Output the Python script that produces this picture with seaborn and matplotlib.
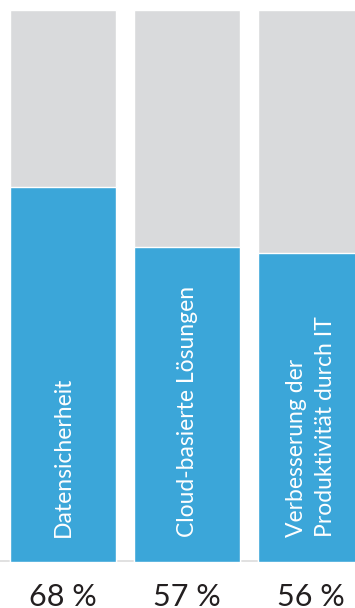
import matplotlib
matplotlib.use("Agg")
import matplotlib.pyplot as plt
import seaborn as sns
import pandas as pd

categories = ["Datensicherheit", "Cloud-basierte Lösungen", "Verbesserung der\nProduktivität durch IT"]
values = [68, 57, 56]
pct_labels = ["68 %", "57 %", "56 %"]
full = [100, 100, 100]

BLUE = "#3BA6D9"
GRAY = "#D9DADC"

sns.set_theme(style="white")
plt.rcParams["font.family"] = ["Lato", "DejaVu Sans"]

W, H = 355, 608
fig = plt.figure(figsize=(W / 100, H / 100), dpi=100)
ax = fig.add_axes([0, (H - 562) / H, 1, 552 / H])

df = pd.DataFrame({"cat": categories, "val": values, "full": full})
bw = 106 / 124
sns.barplot(data=df, x="cat", y="full", color=GRAY, saturation=1, width=bw, ax=ax)
sns.barplot(data=df, x="cat", y="val", color=BLUE, saturation=1, width=bw, ax=ax)

xmin = -63 / 124
ax.set_xlim(xmin, xmin + W / 124)
ax.set_ylim(0, 100)
ax.axis("off")
ax.axhline(0.2, color="#DCDCDC", lw=1.2, zorder=0, clip_on=False)

for i, (c, p) in enumerate(zip(categories, pct_labels)):
    ax.text(i, 4.5, c, rotation=90, ha="center", va="bottom", color="white",
            fontsize=16.5, fontweight="normal", multialignment="left", linespacing=1.45)
    ax.text(i, -35 / 552 * 100, p, ha="center", va="center", color="#231F20",
            fontsize=22, fontweight="normal")

fig.savefig("out.png", dpi=100)
